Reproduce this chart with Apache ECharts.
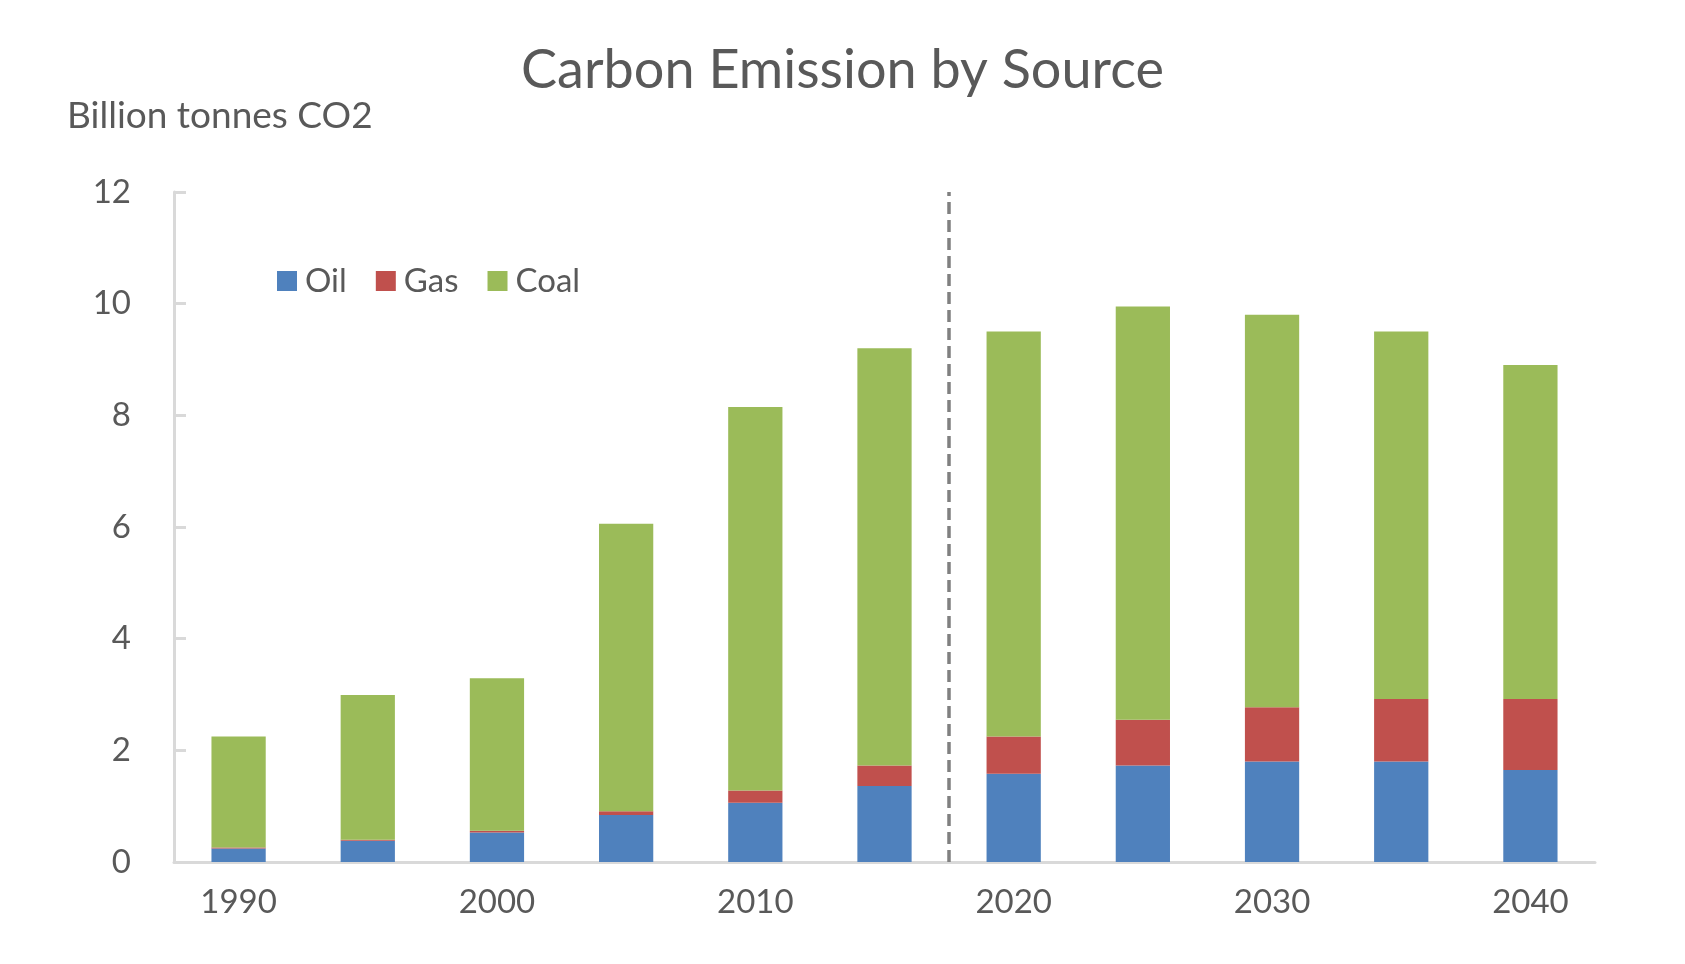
<!DOCTYPE html>
<html>
<head>
<meta charset="utf-8">
<script src="https://cdn.jsdelivr.net/npm/echarts@6/dist/echarts.min.js"></script>
<style>
html,body{margin:0;padding:0;background:#fff;}
#chart{width:1685px;height:964px;}
</style>
</head>
<body>
<div id="chart"></div>
<script>
const years = ['1990','1995','2000','2005','2010','2015','2020','2025','2030','2035','2040'];
const oil  = [0.24, 0.38, 0.53, 0.84, 1.06, 1.36, 1.58, 1.73, 1.80, 1.80, 1.65];
const gas  = [0.02, 0.02, 0.03, 0.07, 0.22, 0.37, 0.67, 0.82, 0.97, 1.12, 1.27];
const coal = [1.99, 2.59, 2.73, 5.15, 6.87, 7.47, 7.25, 7.40, 7.03, 6.58, 5.98];
const yTicks = { min: 0, max: 12, interval: 2 };
const projectionBoundary = 5.5; // between 2015 (index 5) and 2020 (index 6)

const FONT = 'Lato';
const TXT = '#595959';
const AXIS = '#d9d9d9';

const chart = echarts.init(document.getElementById('chart'));
chart.setOption({
  animation: false,
  backgroundColor: '#fff',
  title: [
    { text: 'Carbon Emission by Source', left: 'center', top: 39,
      textStyle: { fontFamily: FONT, fontSize: 54, fontWeight: 'normal', color: TXT } },
    { text: 'Billion tonnes CO2', left: 62, top: 93,
      textStyle: { fontFamily: FONT, fontSize: 37, fontWeight: 'normal', color: TXT } }
  ],
  legend: {
    left: 272, top: 256, itemWidth: 20, itemHeight: 20, itemGap: 29,
    icon: 'rect',
    data: ['Oil', 'Gas', 'Coal'],
    textStyle: { fontFamily: FONT, fontSize: 33, color: TXT, lineHeight: 40, padding: [0, 0, 0, 3] }
  },
  grid: { left: 174, right: 90, top: 192, bottom: 102, containLabel: false },
  xAxis: [
    { type: 'category', data: years,
      axisLine: { lineStyle: { color: AXIS, width: 3 } },
      axisTick: { show: false },
      axisLabel: { interval: 1, fontFamily: FONT, fontSize: 33, color: TXT, margin: 24 }
    },
    { type: 'value', min: -0.5, max: years.length - 0.5, show: false }
  ],
  yAxis: {
    type: 'value', min: yTicks.min, max: yTicks.max, interval: yTicks.interval,
    splitLine: { show: false },
    axisLine: { show: true, onZero: false, lineStyle: { color: AXIS, width: 3 } },
    axisTick: { show: true, inside: true, length: 12, lineStyle: { color: AXIS, width: 3 } },
    axisLabel: { fontFamily: FONT, fontSize: 33, color: TXT, margin: 43 }
  },
  series: [
    { name: 'Oil', type: 'bar', stack: 'total', data: oil, barWidth: '42%',
      itemStyle: { color: '#4F81BD' } },
    { name: 'Gas', type: 'bar', stack: 'total', data: gas, barWidth: '42%',
      itemStyle: { color: '#C0504D' } },
    { name: 'Coal', type: 'bar', stack: 'total', data: coal, barWidth: '42%',
      itemStyle: { color: '#9BBB59' } },
    { name: 'divider', type: 'scatter', xAxisIndex: 1, data: [], silent: true,
      markLine: {
        silent: true, symbol: ['none', 'none'], label: { show: false },
        lineStyle: { color: '#808080', width: 3.5, type: [12, 6] },
        data: [{ xAxis: projectionBoundary }]
      }
    }
  ]
});
</script>
</body>
</html>
